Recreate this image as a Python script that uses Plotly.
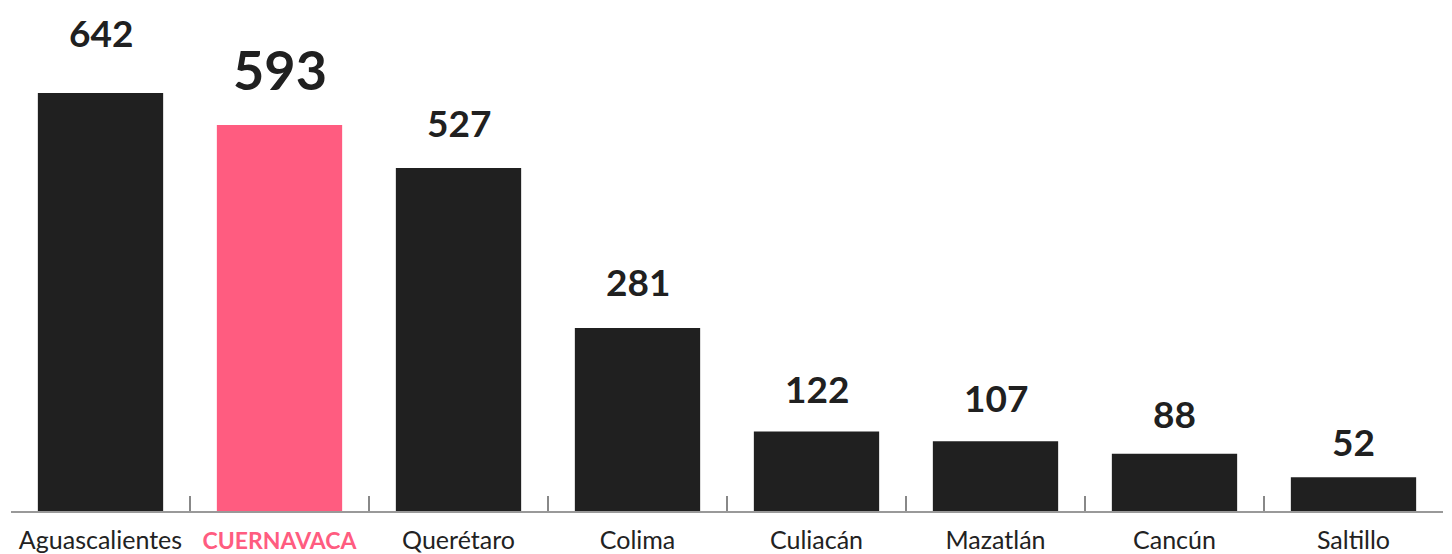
import plotly.graph_objects as go

cities = ["Aguascalientes", "CUERNAVACA", "Querétaro", "Colima", "Culiacán", "Mazatlán", "Cancún", "Saltillo"]
values = [642, 593, 527, 281, 122, 107, 88, 52]
highlight = "CUERNAVACA"

# style: vertical offset (px) of each value label above its bar
label_shift = [61, 55, 45, 47, 43, 44, 40, 36]

DARK = "#202020"
PINK = "#FF5C80"
FONT = "Source Sans Pro, Lato, Open Sans, sans-serif"

colors = [PINK if c == highlight else DARK for c in cities]
ticktext = [f"<b><span style='color:{PINK};font-size:23px'>{c}</span></b>" if c == highlight else c
            for c in cities]

fig = go.Figure(go.Bar(x=cities, y=values, marker=dict(color=colors, line=dict(width=0)),
                       hoverinfo="skip"))

for c, v, s in zip(cities, values, label_shift):
    big = c == highlight
    fig.add_annotation(x=c, y=v, text=f"<b>{v}</b>", showarrow=False,
                       yanchor="middle", yshift=s,
                       font=dict(family=FONT, size=(54 if big else 37), color=DARK))

fig.update_layout(
    width=1452, height=554,
    margin=dict(l=3, r=17, t=0, b=51, autoexpand=False),
    plot_bgcolor="white", paper_bgcolor="white",
    bargap=0.3, showlegend=False,
    font=dict(family=FONT, color="#222222"),
)
fig.update_xaxes(type="category", tickmode="array", tickvals=cities, ticktext=ticktext,
                 tickson="boundaries", ticks="inside", ticklen=15, tickwidth=2, tickcolor="#888888",
                 showline=True, linecolor="#999999", linewidth=2, automargin=False,
                 tickangle=0, ticklabelstandoff=6,
                 tickfont=dict(family=FONT, size=25, color="#222222"), showgrid=False,
                 range=[-0.5, 7.5])
fig.update_yaxes(visible=False, range=[0, 772.6], showgrid=False)

fig.write_html("out.html")
